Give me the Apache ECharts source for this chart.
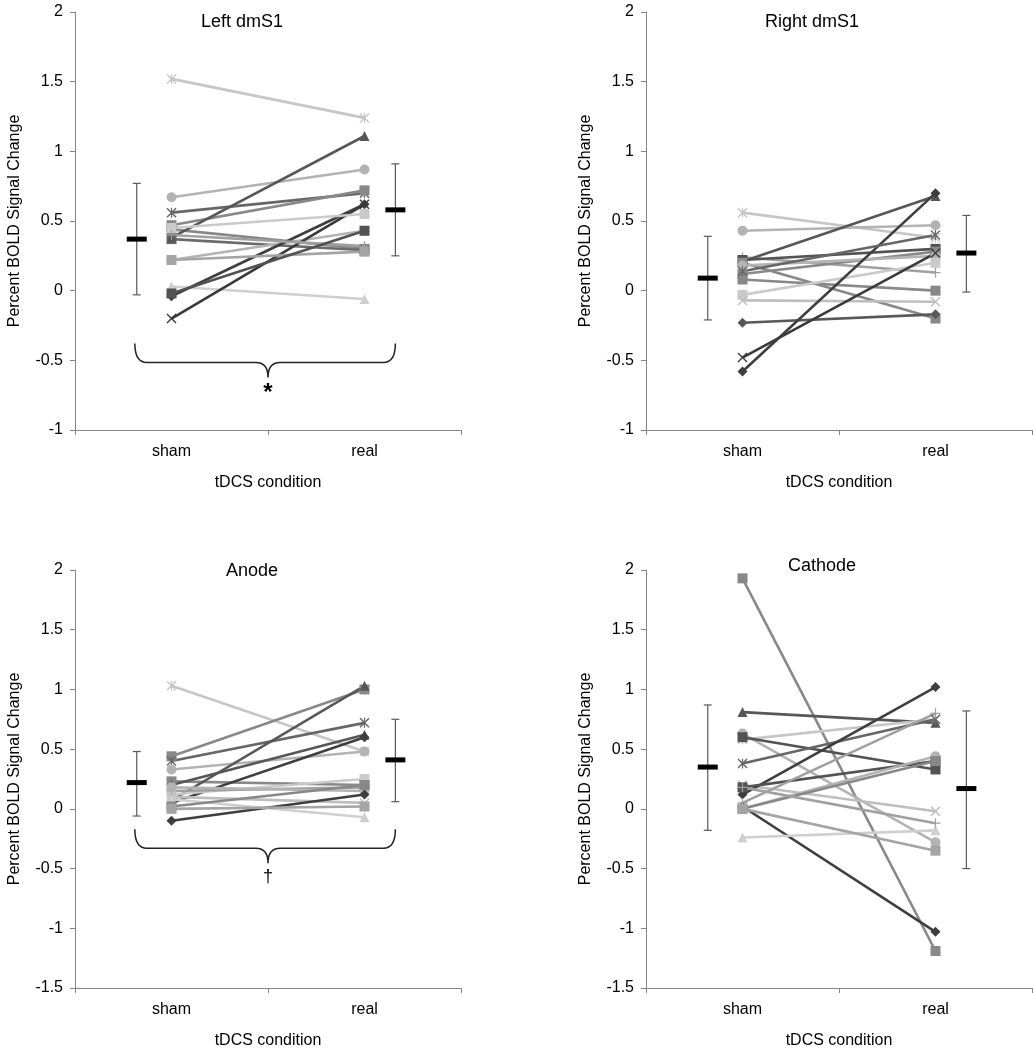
<!DOCTYPE html>
<html>
<head>
<meta charset="utf-8">
<script src="https://cdn.jsdelivr.net/npm/echarts@6/dist/echarts.min.js"></script>
<style>
  html, body { margin: 0; padding: 0; background: #fff; }
  #chart { width: 1033px; height: 1050px; }
</style>
</head>
<body>
<div id="chart"></div>
<script>
// ---------------- DATA ----------------
const categories = ['sham', 'real'];
const panelTitles = ['Left dmS1', 'Right dmS1', 'Anode', 'Cathode'];
const yAxisTitle = 'Percent BOLD Signal Change';
const xAxisTitle = 'tDCS condition';

// Left dmS1
const leftDmS1Sham = [1.52, 0.67, 0.56, 0.47, 0.44, 0.37, 0.38, 0.22, 0.03, -0.04, -0.20, 0.45, 0.40, 0.22, -0.02];
const leftDmS1Real = [1.24, 0.87, 0.70, 0.72, 0.30, 0.29, 1.11, 0.43, -0.06, 0.62, 0.62, 0.55, 0.32, 0.28, 0.43];
const leftDmS1Mean = [0.37, 0.58];
const leftDmS1ErrLow = [-0.03, 0.25];
const leftDmS1ErrHigh = [0.77, 0.91];

// Right dmS1
const rightDmS1Sham = [0.56, 0.43, 0.24, 0.21, 0.22, 0.20, 0.12, 0.08, 0.18, -0.03, -0.07, -0.23, -0.48, -0.58, 0.14];
const rightDmS1Real = [0.38, 0.47, 0.13, 0.68, 0.30, -0.20, 0.28, 0.00, 0.25, 0.20, -0.08, -0.17, 0.27, 0.70, 0.40];
const rightDmS1Mean = [0.09, 0.27];
const rightDmS1ErrLow = [-0.21, -0.01];
const rightDmS1ErrHigh = [0.39, 0.54];

// Anode
const anodeSham = [1.03, 0.44, 0.40, 0.33, 0.23, 0.07, 0.20, 0.05, 0.12, 0.15, 0.18, 0.10, 0.08, -0.10, 0.02, 0.00];
const anodeReal = [0.48, 1.00, 0.72, 0.48, 0.20, 1.03, 0.62, 0.60, 0.25, 0.18, 0.15, 0.05, -0.07, 0.12, 0.20, 0.02];
const anodeMean = [0.22, 0.41];
const anodeErrLow = [-0.06, 0.06];
const anodeErrHigh = [0.48, 0.75];

// Cathode
const cathodeSham = [1.93, 0.81, 0.63, 0.58, 0.60, 0.38, 0.20, 0.12, 0.18, 0.00, 0.00, 0.02, -0.24, 0.18, 0.00, 0.05];
const cathodeReal = [-1.19, 0.72, -0.28, 0.75, 0.33, 0.75, -0.02, 1.02, 0.40, 0.44, 0.40, -1.03, -0.18, -0.12, -0.35, 0.80];
const cathodeMean = [0.35, 0.17];
const cathodeErrLow = [-0.18, -0.50];
const cathodeErrHigh = [0.87, 0.82];

const significance = ['*', '', '\u2020', ''];

// ---------------- STYLES ----------------
const SYM = {
  x: 'path://M1,0 L5,4 L9,0 L10,1 L6,5 L10,9 L9,10 L5,6 L1,10 L0,9 L4,5 L0,1 Z',
  plus: 'path://M4.4,0 L5.6,0 L5.6,4.4 L10,4.4 L10,5.6 L5.6,5.6 L5.6,10 L4.4,10 L4.4,5.6 L0,5.6 L0,4.4 L4.4,4.4 Z',
  ast: 'path://M1,0 L5,4 L9,0 L10,1 L6,5 L10,9 L9,10 L5,6 L1,10 L0,9 L4,5 L0,1 Z M4.4,0 L5.6,0 L5.6,10 L4.4,10 Z',
  dash: 'path://M0,4 L10,4 L10,6 L0,6 Z'
};
const STYLE = {
  astL:  { symbol: SYM.ast, color: '#c6c6c6' },
  astD:  { symbol: SYM.ast, color: '#666666' },
  circL: { symbol: 'circle', color: '#b3b3b3' },
  sq:    { symbol: 'rect', color: '#888888' },
  sqD:   { symbol: 'rect', color: '#6a6a6a' },
  triD:  { symbol: 'triangle', color: '#575757' },
  triL:  { symbol: 'triangle', color: '#cfcfcf' },
  diaD:  { symbol: 'diamond', color: '#3e3e3e' },
  dia:   { symbol: 'diamond', color: '#585858' },
  xD:    { symbol: SYM.x, color: '#3a3a3a' },
  xL:    { symbol: SYM.x, color: '#bebebe' },
  plus:  { symbol: SYM.plus, color: '#a0a0a0' },
  dash:  { symbol: SYM.dash, color: '#a4a4a4' },
  dashD: { symbol: SYM.dash, color: '#525252' },
  dashL: { symbol: SYM.dash, color: '#cacaca' }
};
const leftStyles = ['astL','circL','astD','sq','sq','sqD','triD','circL','triL','diaD','xD','dashL','plus','dash','dashD'];
const rightStyles = ['astL','circL','plus','triD','dashD','sq','sq','sq','circL','dashL','xL','dia','xD','diaD','astD'];
const anodeStyles = ['astL','sq','astD','circL','sq','triD','triD','diaD','dashL','plus','circL','xL','triL','diaD','sq','dash'];
const cathodeStyles = ['sq','triD','circL','astL','dashD','astD','xL','diaD','dashD','circL','sq','diaD','triL','plus','dash','plus'];

const panels = [
  { sham: leftDmS1Sham, real: leftDmS1Real, mean: leftDmS1Mean, lo: leftDmS1ErrLow, hi: leftDmS1ErrHigh, styles: leftStyles,
    grid: { left: 75, top: 12, width: 386, height: 418 }, yMin: -1, braceTop: -0.38, titleX: 242, titleY: 22 },
  { sham: rightDmS1Sham, real: rightDmS1Real, mean: rightDmS1Mean, lo: rightDmS1ErrLow, hi: rightDmS1ErrHigh, styles: rightStyles,
    grid: { left: 646, top: 12, width: 386, height: 418 }, yMin: -1, braceTop: null, titleX: 812, titleY: 22 },
  { sham: anodeSham, real: anodeReal, mean: anodeMean, lo: anodeErrLow, hi: anodeErrHigh, styles: anodeStyles,
    grid: { left: 75, top: 570, width: 386, height: 418 }, yMin: -1.5, braceTop: -0.17, titleX: 252, titleY: 571 },
  { sham: cathodeSham, real: cathodeReal, mean: cathodeMean, lo: cathodeErrLow, hi: cathodeErrHigh, styles: cathodeStyles,
    grid: { left: 646, top: 570, width: 386, height: 418 }, yMin: -1.5, braceTop: null, titleX: 822, titleY: 566 }
];

const FONT = 'Liberation Sans, Arial, sans-serif';
const AXIS_COLOR = '#858585';
const SHAM_X = 0.5, REAL_X = 1.5, MEAN_L = 0.32, MEAN_R = 1.66;

const grids = [], xAxes = [], yAxes = [], series = [];

panels.forEach((p, g) => {
  grids.push(Object.assign({ containLabel: false }, p.grid));
  // visible category axis
  xAxes.push({
    type: 'category', gridIndex: g, data: categories, boundaryGap: true,
    axisLine: { onZero: false, lineStyle: { color: AXIS_COLOR, width: 1 } },
    axisTick: { show: true, length: 5, lineStyle: { color: AXIS_COLOR } },
    axisLabel: { color: '#000', fontSize: 16, fontFamily: FONT, margin: 14 },
    name: xAxisTitle, nameLocation: 'middle', nameGap: 45,
    nameTextStyle: { color: '#000', fontSize: 16, fontFamily: FONT },
    splitLine: { show: false }
  });
  // hidden value axis for positioning
  xAxes.push({ type: 'value', gridIndex: g, min: 0, max: 2, show: false });
  yAxes.push({
    type: 'value', gridIndex: g, min: p.yMin, max: 2, interval: 0.5,
    axisLine: { show: true, lineStyle: { color: AXIS_COLOR, width: 1 } },
    axisTick: { show: true, length: 5, lineStyle: { color: AXIS_COLOR } },
    axisLabel: { color: '#000', fontSize: 16, fontFamily: FONT, margin: 12 },
    splitLine: { show: false },
    name: yAxisTitle, nameLocation: 'middle', nameGap: 52, nameRotate: 90,
    nameTextStyle: { color: '#000', fontSize: 16, fontFamily: FONT }
  });
  const xi = 2 * g + 1;
  p.sham.forEach((v, i) => {
    const st = STYLE[p.styles[i]];
    series.push({
      type: 'line', xAxisIndex: xi, yAxisIndex: g, silent: true, animation: false,
      data: [[SHAM_X, v], [REAL_X, p.real[i]]],
      symbol: st.symbol, symbolSize: 10, showSymbol: true,
      lineStyle: { color: st.color, width: 2.6 },
      itemStyle: { color: st.color, opacity: 1 },
      z: 2
    });
  });
  // error bars
  series.push({
    type: 'custom', xAxisIndex: xi, yAxisIndex: g, silent: true, animation: false, z: 3,
    data: [[MEAN_L, p.lo[0], p.hi[0]], [MEAN_R, p.lo[1], p.hi[1]]],
    encode: { x: 0, y: [1, 2] },
    renderItem: function (params, api) {
      const a = api.coord([api.value(0), api.value(1)]);
      const b = api.coord([api.value(0), api.value(2)]);
      const w = 4;
      const style = { stroke: '#5a5a5a', lineWidth: 1.2 };
      return { type: 'group', children: [
        { type: 'line', shape: { x1: a[0], y1: a[1], x2: b[0], y2: b[1] }, style },
        { type: 'line', shape: { x1: a[0] - w, y1: a[1], x2: a[0] + w, y2: a[1] }, style },
        { type: 'line', shape: { x1: b[0] - w, y1: b[1], x2: b[0] + w, y2: b[1] }, style }
      ] };
    }
  });
  // means
  series.push({
    type: 'scatter', xAxisIndex: xi, yAxisIndex: g, silent: true, animation: false, z: 4,
    data: [[MEAN_L, p.mean[0]], [MEAN_R, p.mean[1]]],
    symbol: 'rect', symbolSize: [20, 5], itemStyle: { color: '#000', opacity: 1 }
  });
  // brace + significance mark
  if (p.braceTop !== null) {
    const top = p.braceTop, mark = significance[g];
    series.push({
      type: 'custom', xAxisIndex: xi, yAxisIndex: g, silent: true, animation: false, z: 5,
      data: [[1, top]],
      renderItem: function (params, api) {
        const L = api.coord([MEAN_L - 0.01, top]);
        const R = api.coord([MEAN_R, top]);
        const M = api.coord([1, top]);
        const T = L[1], H = T + 19, P = T + 34, r = 12;
        const path = 'M' + L[0] + ',' + T + ' Q' + L[0] + ',' + H + ' ' + (L[0] + r) + ',' + H +
          ' L' + (M[0] - r) + ',' + H + ' Q' + M[0] + ',' + H + ' ' + M[0] + ',' + P +
          ' Q' + M[0] + ',' + H + ' ' + (M[0] + r) + ',' + H +
          ' L' + (R[0] - r) + ',' + H + ' Q' + R[0] + ',' + H + ' ' + R[0] + ',' + T;
        return { type: 'group', children: [
          { type: 'path', shape: { pathData: path }, style: { stroke: '#222', lineWidth: 1.5, fill: null } },
          { type: 'text', style: { text: mark, x: M[0], y: P + (mark === '*' ? 16 : 14), align: 'center', verticalAlign: 'middle',
            font: (mark === '*' ? 'bold 24px ' : '18px ') + FONT, fill: '#000' } }
        ] };
      }
    });
  }
});

const titleGraphics = panels.map((p, g) => ({
  type: 'text', x: p.titleX, y: p.titleY,
  style: { text: panelTitles[g], font: '18px ' + FONT, fill: '#000', align: 'center', verticalAlign: 'middle' }
}));

const chart = echarts.init(document.getElementById('chart'), null, { renderer: 'canvas' });
chart.setOption({
  animation: false,
  backgroundColor: '#fff',
  grid: grids, xAxis: xAxes, yAxis: yAxes, series: series,
  graphic: titleGraphics
});
</script>
</body>
</html>
